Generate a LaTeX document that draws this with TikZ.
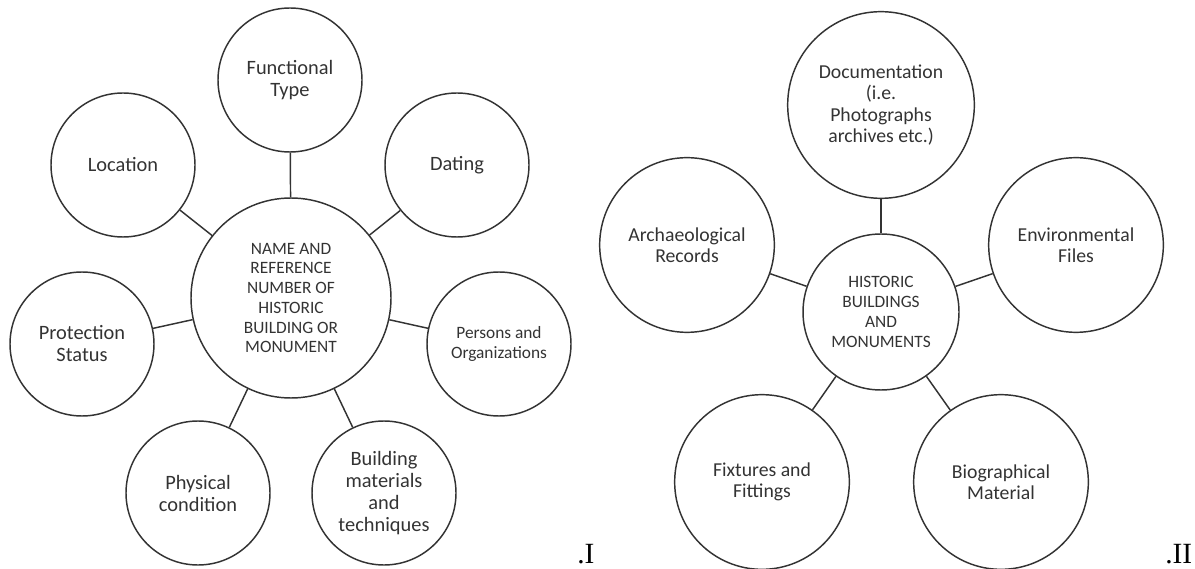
\documentclass[tikz,border=0pt]{standalone}
\usepackage{fontspec}
\setmainfont{Carlito}
\newfontfamily\tagserif{Liberation Serif}
\usepackage{tikz}
\definecolor{inkgray}{rgb}{0.20,0.20,0.20}

\begin{document}
\begin{tikzpicture}[
  x=0.75pt, y=0.75pt,
  hub/.style={draw=inkgray, circle, line width=1.1pt, inner sep=0pt, align=center, text=inkgray, font=\fontsize{13}{14.8}\selectfont},
  leaf/.style={hub, minimum size=108pt, font=\fontsize{15.3}{16.5}\selectfont},
  bigleaf/.style={hub, minimum size=131pt, font=\fontsize{14.8}{16}\selectfont},
  link/.style={draw=inkgray, line width=1.1pt},
  tag/.style={anchor=base west, inner sep=0pt, font=\tagserif\fontsize{22}{24}\selectfont}
]
\useasboundingbox (0,0) rectangle (1195,568);

% diagram I: building record
\node[hub, minimum size=150pt] (nameref) at (291,270)
     {NAME AND\\ REFERENCE\\ NUMBER OF\\ HISTORIC\\ BUILDING OR\\ MONUMENT};
\node[leaf] (functype)   at (290,488) {Functional\\ Type};
\node[leaf] (location)   at (123,403) {Location};
\node[leaf] (dating)     at (457,403) {Dating};
\node[leaf] (protection) at (82,224)  {Protection\\ Status};
\node[leaf, font=\fontsize{13}{14.8}\selectfont] (persons) at (499,224) {Persons and\\ Organizations};
\node[leaf] (physical)   at (198,75)  {Physical\\ condition};
\node[leaf] (materials)  at (384,75)  {Building\\ materials\\ and\\ techniques};

\foreach \leafname in {functype,location,dating,protection,persons,physical,materials} {
  \draw[link] (nameref) -- (\leafname);
}
\node[tag] (tagI) at (577,5) {.I};

% diagram II: sources
\node[hub, minimum size=117pt] (heritage) at (881,256)
     {HISTORIC\\ BUILDINGS\\ AND\\ MONUMENTS};
\node[bigleaf, minimum size=140pt] (documents) at (881,463)
     {Documentation\\ (i.e.\\ Photographs\\ archives etc.)};
\node[bigleaf] (archaeo)  at (687,323)  {Archaeological\\ Records};
\node[bigleaf] (environ)  at (1076,323) {Environmental\\ Files};
\node[bigleaf] (fixtures) at (762,86)   {Fixtures and\\ Fittings};
\node[bigleaf] (biograph) at (1001,86)  {Biographical\\ Material};

\foreach \leafname in {documents,archaeo,environ,fixtures,biograph} {
  \draw[link] (heritage) -- (\leafname);
}
\node[tag] (tagII) at (1165,5) {.II};
\end{tikzpicture}
\end{document}
